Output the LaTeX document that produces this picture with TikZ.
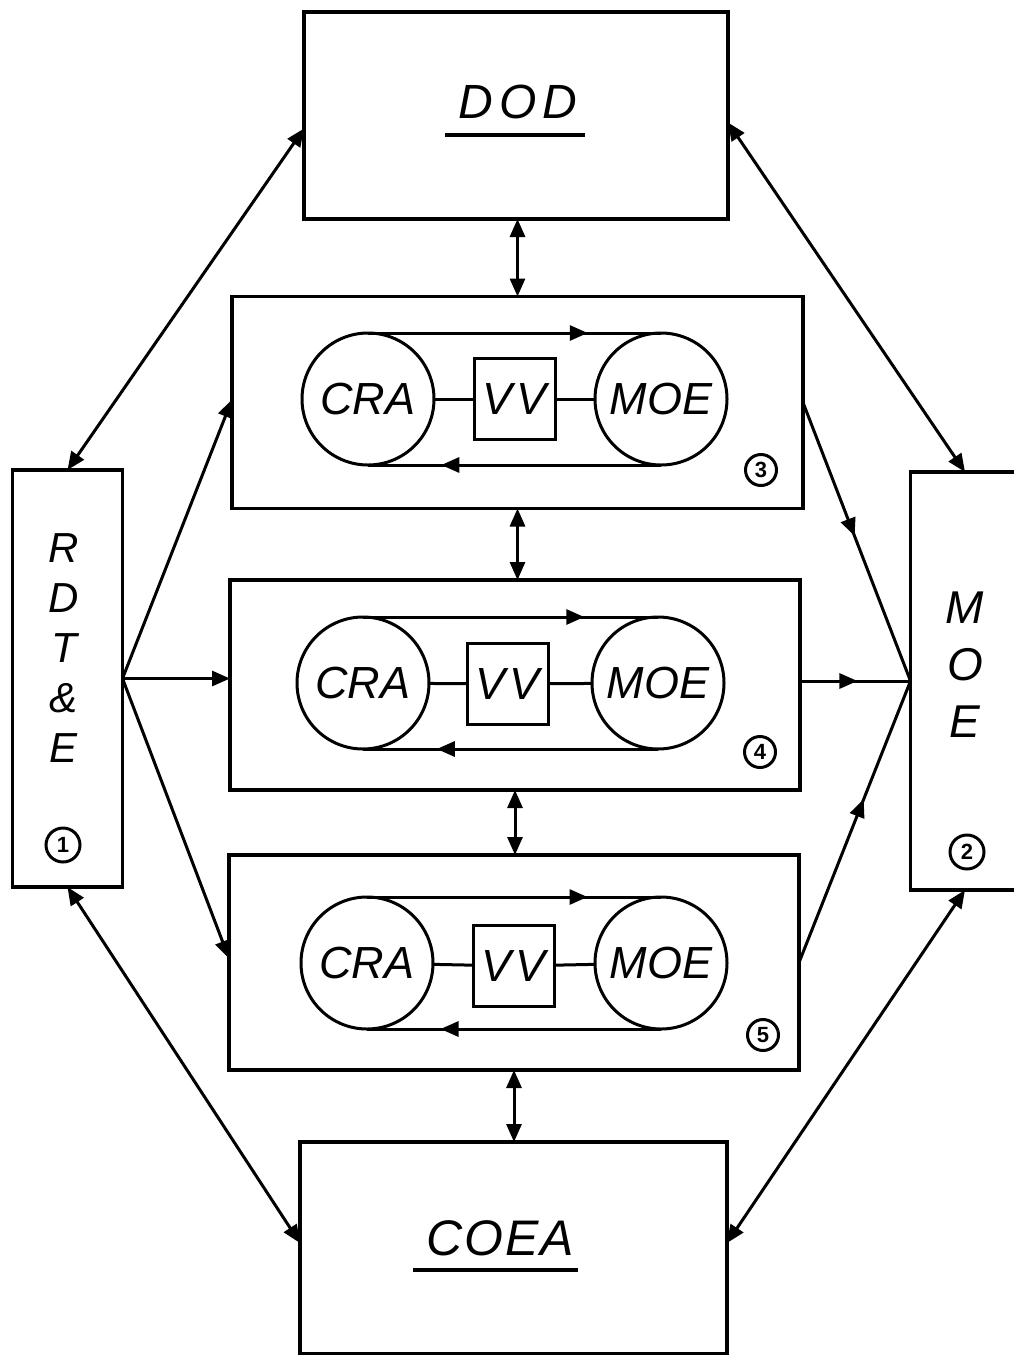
\documentclass[tikz,border=0pt]{standalone}
\usepackage{fontspec}
\setmainfont{Liberation Sans}
\usetikzlibrary{arrows.meta,decorations.markings,calc}
\newcommand\lettering[2]{\fontsize{#1}{#2}\selectfont\itshape}
\begin{document}
\begin{tikzpicture}[x=1pt,y=-1pt,
  box/.style={draw, line width=3.6pt, inner sep=0pt, outer sep=0pt},
  blob/.style={draw, circle, line width=3pt, minimum size=132pt, inner sep=0pt, outer sep=0pt, font=\lettering{45}{50}},
  vvbox/.style={draw, line width=3pt, minimum size=81pt, inner sep=0pt, outer sep=0pt, font=\lettering{45}{50}},
  link/.style={line width=3pt},
  tipd/.style={{Triangle[length=18pt,width=15pt]}-{Triangle[length=18pt,width=15pt]}},
  tipe/.style={-{Triangle[length=18pt,width=15pt]}},
  midtip/.style={decoration={markings, mark=at position #1 with {\arrow{Triangle[length=18pt,width=15pt]}}}, postaction=decorate},
  numc/.style={draw, circle, line width=3pt, minimum size=#1, inner sep=0pt, font=\bfseries\fontsize{22}{22}\selectfont},
]
\useasboundingbox (0,0) rectangle (1013,1355);

% top and bottom boxes
\node[box, minimum width=424pt, minimum height=207pt] (dod) at (516,115.5) {};
\node[font=\lettering{48}{52}, anchor=base] (dodt) at (518,118) {D\hspace{6pt}O\hspace{6pt}D};
\draw[line width=3.4pt] ($(dodt.base)+(-73,17)$) -- ($(dodt.base)+(67,17)$);

\node[box, minimum width=427pt, minimum height=212pt] (coea) at (513.5,1248) {};
\node[font=\lettering{50}{54}, anchor=base] (coeat) at (500,1255) {C\hspace{2pt}O\hspace{2pt}E\hspace{2pt}A};
\draw[line width=3.4pt] ($(coeat.base)+(-87,15)$) -- ($(coeat.base)+(78,15)$);

% side boxes
\node[box, minimum width=110pt, minimum height=417pt] (rdte) at (67.5,678.5) {};
\node[font=\lettering{42}{50}, align=center] (rdtet) at (64,648) {R\\D\\T\\\&\\E};
\node[numc=34pt] (n1) at (63,845) {1};

\node[box, minimum width=115pt, minimum height=418pt] (moe) at (968,681) {};
\node[font=\lettering{46}{57}, align=center] (moet) at (965,665) {M\\O\\E};
\node[numc=34pt] (n2) at (967,852) {2};

% panel 3
\node[box, minimum width=571pt, minimum height=212pt] (p3) at (517.5,402.5) {};
\node[blob] (cra3) at (368,399) {CRA};
\node[vvbox] (vv3) at (515,399) {V\hspace{4pt}V};
\node[blob] (moe3) at (661,399) {MOE};
\draw[link] (cra3) -- (vv3);
\draw[link] (vv3) -- (moe3);
\draw[link, midtip=0.75] (cra3.north) -- (moe3.north);
\draw[link, midtip=0.75] (moe3.south) -- (cra3.south);
\node[numc=31pt] (n3) at (761,470) {3};

% panel 4
\node[box, minimum width=570pt, minimum height=210pt] (p4) at (515,685) {};
\node[blob] (cra4) at (363,683) {CRA};
\node[vvbox] (vv4) at (508,684) {V\hspace{4pt}V};
\node[blob] (moe4) at (658,683) {MOE};
\draw[link] (cra4) -- (vv4);
\draw[link] (vv4) -- (moe4);
\draw[link, midtip=0.75] (cra4.north) -- (moe4.north);
\draw[link, midtip=0.75] (moe4.south) -- (cra4.south);
\node[numc=31pt] (n4) at (760,752) {4};

% panel 5
\node[box, minimum width=570pt, minimum height=215pt] (p5) at (514,962.5) {};
\node[blob] (cra5) at (367,963) {CRA};
\node[vvbox] (vv5) at (514,966) {V\hspace{4pt}V};
\node[blob] (moe5) at (661,963) {MOE};
\draw[link] (cra5) -- (vv5);
\draw[link] (vv5) -- (moe5);
\draw[link, midtip=0.75] (cra5.north) -- (moe5.north);
\draw[link, midtip=0.75] (moe5.south) -- (cra5.south);
\node[numc=31pt] (n5) at (763,1035) {5};

% vertical double arrows
\draw[link, tipd] (p3.north) -- (p3.north |- dod.south);
\draw[link, tipd] (p3.south) -- (p3.south |- p4.north);
\draw[link, tipd] (p4.south) -- (p4.south |- p5.north);
\draw[link, tipd] (p5.south) -- (p5.south |- coea.north);

% big diagonals
\draw[link, tipd] ($(dod.west)+(0,13)$) -- (rdte.north);
\draw[link, tipd] ($(dod.east)+(0,7)$) -- ($(moe.north)+(-3,0)$);
\draw[link, tipd] (rdte.south) -- ($(coea.west)+(0,-5)$);
\draw[link, tipd] ($(moe.south)+(-3,0)$) -- ($(coea.east)+(0,-5)$);

% fan from RDT&E
\draw[link, tipe] (rdte.east) -- ($(p3.west)+(0,-3)$);
\draw[link, tipe] (rdte.east) -- (p4.west |- rdte.east);
\draw[link, tipe] (rdte.east) -- ($(p5.west)+(0,-4)$);

% fan into MOE
\draw[link, midtip=0.48] (p3.east) -- (moe.west);
\draw[link, midtip=0.52] (p4.east |- moe.west) -- (moe.west);
\draw[link, midtip=0.58] (p5.east) -- (moe.west);
\end{tikzpicture}
\end{document}
